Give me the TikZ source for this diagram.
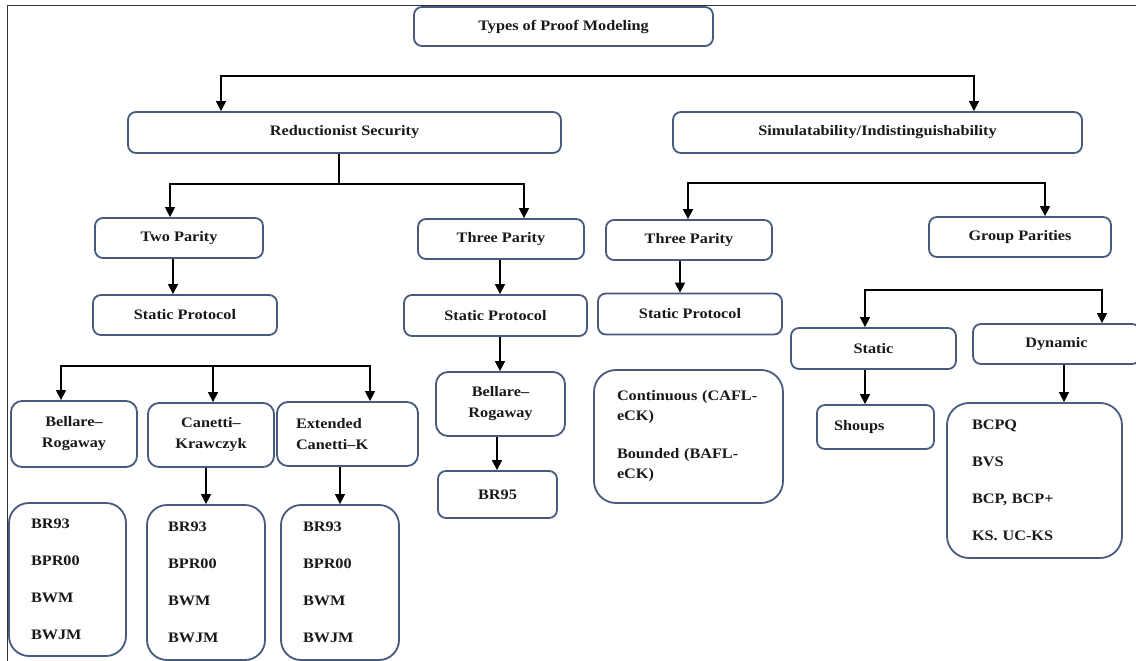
\documentclass[tikz,border=0pt]{standalone}
\usepackage{fontspec}
\setmainfont{Liberation Serif}[FakeStretch=1.12]
\usetikzlibrary{arrows.meta}
\definecolor{bc}{RGB}{72,90,128}
\definecolor{tc}{RGB}{25,25,25}
\begin{document}
\begin{tikzpicture}[x=1pt,y=-1pt,
  every node/.style={text=tc},
  box/.style={draw=bc, line width=1.8pt, rounded corners=8pt, fill=white, align=center, inner sep=0pt,
    font=\bfseries\fontsize{14.5}{21}\selectfont},
  lbox/.style={box, align=left},
  listbox/.style={lbox, rounded corners=20pt, font=\bfseries\fontsize{14.5}{37}\selectfont},
  conn/.style={draw=black, line width=1.4pt},
  arr/.style={conn, -{Triangle[length=10pt,width=10pt]}},
  arrr/.style={conn, {Triangle[length=10pt,width=10pt]}-{Triangle[length=10pt,width=10pt]}},
  frame/.style={draw=black!80, line width=1pt}
]
\useasboundingbox (0,0) rectangle (1136,661);
\draw[frame] (7,661) -- (7,6) -- (1136,6);

% level 0-1
\node[box, minimum width=299pt, minimum height=39pt] (title) at (563.5,26.5) {Types of Proof Modeling};
\node[box, minimum width=433pt, minimum height=41pt] (red) at (344.5,132.5) {Reductionist Security};
\node[box, minimum width=409pt, minimum height=41pt] (sim) at (877.5,132.5) {Simulatability/Indistinguishability};

% left branch
\node[box, minimum width=168pt, minimum height=40pt] (two) at (179,238) {Two Parity};
\node[box, minimum width=166pt, minimum height=40pt] (thrL) at (501,239) {Three Parity};
\node[box, minimum width=184pt, minimum height=40pt] (stL) at (185,315) {Static Protocol};
\node[box, minimum width=183pt, minimum height=41pt] (stM) at (495.5,315.5) {Static Protocol};

\node[box, rounded corners=11pt, minimum width=126pt, minimum height=66pt] (brL) at (74,434) {Bellare–\\Rogaway};
\node[box, rounded corners=11pt, minimum width=126pt, minimum height=64pt] (can) at (211,435) {Canetti–\\Krawczyk};
\node[lbox, rounded corners=11pt, text width=103pt, inner xsep=19pt, minimum height=64pt] (ext) at (347.5,434) {Extended\\Canetti–K};
\node[box, rounded corners=12pt, minimum width=129pt, minimum height=64pt] (brM) at (500.5,404) {Bellare–\\Rogaway};
\node[box, minimum width=119pt, minimum height=47pt] (br95) at (497.5,494.5) {BR95};

\node[listbox, text width=73pt, inner xsep=22pt, minimum height=153pt] (l1) at (67.5,579.5) {BR93\\BPR00\\BWM\\BWJM};
\node[listbox, text width=76pt, inner xsep=21pt, minimum height=155pt] (l2) at (206,582.5) {BR93\\BPR00\\BWM\\BWJM};
\node[listbox, text width=74pt, inner xsep=22pt, minimum height=155pt] (l3) at (340,582.5) {BR93\\BPR00\\BWM\\BWJM};

% right branch
\node[box, minimum width=166pt, minimum height=40pt] (thrR) at (689,240) {Three Parity};
\node[box, minimum width=184pt, minimum height=41pt] (stR) at (690,314) {Static Protocol};
\node[lbox, rounded corners=22pt, text width=143pt, inner xsep=23pt, minimum height=133pt,
  font=\bfseries\fontsize{14.5}{20}\selectfont] (cont) at (688.5,436.5)
  {Continuous (CAFL-\\eCK)\\[18pt]Bounded (BAFL-\\eCK)};
\node[box, minimum width=182pt, minimum height=40pt] (grp) at (1020,237) {Group Parities};
\node[box, minimum width=165pt, minimum height=41pt] (stat) at (873.5,348.5) {Static};
\node[box, minimum width=167pt, minimum height=40pt] (dyn) at (1056.5,344) {Dynamic};
\node[lbox, text width=83pt, inner xsep=17pt, minimum height=44pt] (shp) at (875.5,427) {Shoups};
\node[listbox, rounded corners=22pt, text width=125pt, inner xsep=25pt, minimum height=155pt] (dl) at (1034.5,480.5)
  {BCPQ\\BVS\\BCP, BCP+\\KS. UC-KS};

% helper positions
\coordinate (t1) at (221,76);
\coordinate (t2) at (974,76);
\coordinate (r1) at (170,184);
\coordinate (r2) at (524,184);
\coordinate (r0) at (339,184);
\coordinate (q1) at (688,183);
\coordinate (q2) at (1045,183);
\coordinate (s1) at (61,366);
\coordinate (s2) at (370,366);
\coordinate (s3) at (213,366);
\coordinate (g1) at (865,290);
\coordinate (g2) at (1102,290);
\coordinate (x173) at (173,0);
\coordinate (x500) at (500,0);
\coordinate (x497) at (497,0);
\coordinate (x206) at (206,0);
\coordinate (x340) at (340,0);
\coordinate (x680) at (680,0);
\coordinate (x1064) at (1064,0);

% connectors
\draw[arrr] (t1 |- red.north) -- (t1) -- (t2) -- (t2 |- sim.north);
\draw[conn] (red.south -| r0) -- (r0);
\draw[arrr] (r1 |- two.north) -- (r1) -- (r2) -- (r2 |- thrL.north);
\draw[arrr] (q1 |- thrR.north) -- (q1) -- (q2) -- (q2 |- grp.north);

\draw[arr] (two.south -| x173) -- (stL.north -| x173);
\draw[arr] (thrL.south -| x500) -- (stM.north -| x500);
\draw[arr] (stM.south -| x500) -- (brM.north -| x500);
\draw[arr] (brM.south -| x497) -- (br95.north -| x497);

\draw[arrr] (s1 |- brL.north) -- (s1) -- (s2) -- (s2 |- ext.north);
\draw[arr] (s3) -- (s3 |- can.north);
\draw[arr] (can.south -| x206) -- (l2.north -| x206);
\draw[arr] (ext.south -| x340) -- (l3.north -| x340);

\draw[arr] (thrR.south -| x680) -- (stR.north -| x680);
\draw[arrr] (g1 |- stat.north) -- (g1) -- (g2) -- (g2 |- dyn.north);
\draw[arr] (stat.south -| g1) -- (shp.north -| g1);
\draw[arr] (dyn.south -| x1064) -- (dl.north -| x1064);
\end{tikzpicture}
\end{document}
